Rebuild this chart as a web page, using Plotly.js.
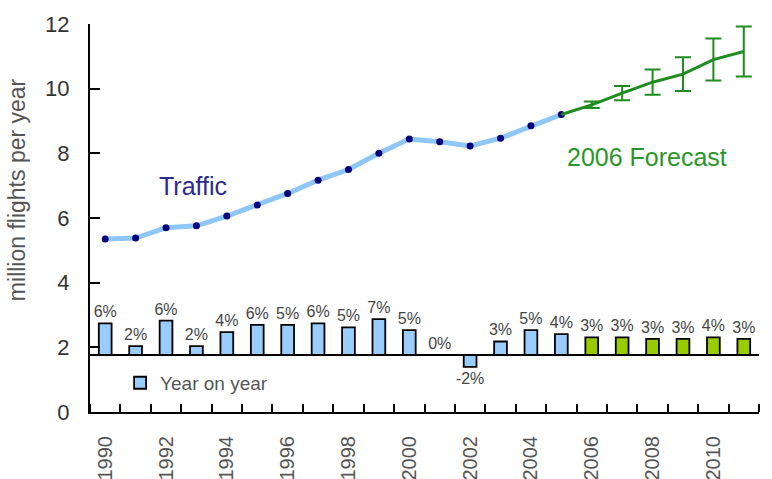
<!DOCTYPE html>
<html>
<head>
<meta charset="utf-8">
<script src="https://cdn.plot.ly/plotly-3.0.1.min.js"></script>
<style>html,body{margin:0;padding:0;background:#fff;}#chart{width:772px;height:479px;}</style>
</head>
<body>
<div id="chart"></div>
<script>
// ---- data ----
const trafficYears = [1990,1991,1992,1993,1994,1995,1996,1997,1998,1999,2000,2001,2002,2003,2004,2005];
const trafficValues = [5.35,5.38,5.7,5.76,6.06,6.4,6.76,7.17,7.5,8.0,8.44,8.36,8.23,8.47,8.85,9.2];

const forecastYears = [2005,2006,2007,2008,2009,2010,2011];
const forecastValues = [9.2,9.5,9.86,10.2,10.45,10.9,11.15];

const errorYears = [2006,2007,2008,2009,2010,2011];
const errorCentres = [9.5,9.86,10.2,10.45,10.9,11.15];
const errorHalfRange = [0.1,0.22,0.39,0.52,0.65,0.77];

const growthYears = [1990,1991,1992,1993,1994,1995,1996,1997,1998,1999,2000,2001,2002,2003,2004,2005,2006,2007,2008,2009,2010,2011];
const growthPct = [6.1,1.7,6.6,1.7,4.4,5.8,5.8,6.1,5.3,6.9,4.8,0,-2.3,2.6,4.8,4.0,3.4,3.4,3.1,3.1,3.4,3.1];
const growthLabels = ['6%','2%','6%','2%','4%','6%','5%','6%','5%','7%','5%','0%','-2%','3%','5%','4%','3%','3%','3%','3%','4%','3%'];
const growthIsForecast = [0,0,0,0,0,0,0,0,0,0,0,0,0,0,0,0,1,1,1,1,1,1];

const xTickYears = [1990,1992,1994,1996,1998,2000,2002,2004,2006,2008,2010];

// ---- chart ----
const FONT = 'Liberation Sans, Arial, sans-serif';
const barColors = growthIsForecast.map(f => f ? '#99cc00' : '#99ccff');

const traces = [
  {
    type: 'bar', x: growthYears, y: growthPct, yaxis: 'y2',
    name: 'Year on year', showlegend: true,
    width: 0.42,
    marker: {color: barColors, line: {color: '#000', width: 1.8}},
    text: growthLabels, textposition: 'outside', constraintext: 'none', cliponaxis: false,
    textfont: {family: FONT, size: 16, color: '#444'},
    hoverinfo: 'skip'
  },
  {
    type: 'scatter', mode: 'lines+markers', x: trafficYears, y: trafficValues,
    line: {color: '#8ec6f6', width: 5},
    marker: {color: '#00007a', size: 7, symbol: 'circle'},
    showlegend: false
  },
  {
    type: 'scatter', mode: 'lines', x: forecastYears, y: forecastValues,
    line: {color: '#1f8c1f', width: 3},
    showlegend: false
  },
  {
    type: 'scatter', mode: 'markers', x: errorYears, y: errorCentres,
    marker: {size: 1, color: 'rgba(0,0,0,0)'},
    error_y: {type: 'data', array: errorHalfRange, visible: true, color: '#1f8c1f', thickness: 2, width: 8},
    showlegend: false
  }
];

const layout = {
  width: 772, height: 479,
  margin: {l: 90, r: 13, t: 24, b: 67},
  paper_bgcolor: '#fff', plot_bgcolor: '#fff',
  font: {family: FONT},
  showlegend: true,
  legend: {x: 0.045, y: 0.075, xanchor: 'left', yanchor: 'middle', bgcolor: 'rgba(0,0,0,0)',
           font: {family: FONT, size: 19, color: '#555'}, itemwidth: 30},
  xaxis: {
    type: 'linear', range: [1989.5, 2011.5],
    tickvals: xTickYears, ticktext: xTickYears.map(String),
    ticks: '', tickangle: -90,
    tickfont: {family: FONT, size: 20, color: '#555'},
    ticklabelstandoff: 14,
    showline: true, linecolor: '#000', linewidth: 2,
    showgrid: false, zeroline: false,
    minor: {tick0: 1989.5, dtick: 1, ticks: 'inside', ticklen: 8, tickwidth: 2, tickcolor: '#000', showgrid: false}
  },
  yaxis: {
    range: [0, 12], dtick: 2, tick0: 0,
    ticks: 'inside', ticklen: 10, tickwidth: 2, tickcolor: '#000',
    tickfont: {family: FONT, size: 22, color: '#333'},
    ticklabelstandoff: 14,
    showline: true, linecolor: '#000', linewidth: 2,
    showgrid: false, zeroline: false
  },
  yaxis2: {
    overlaying: 'y', side: 'right',
    range: [-10.96, 63.65],
    showticklabels: false, ticks: '', showgrid: false, showline: false,
    zeroline: true, zerolinecolor: '#000', zerolinewidth: 1.5
  },
  annotations: [
    {text: 'million flights per year', textangle: -90, xref: 'paper', yref: 'paper',
     x: -0.109, y: 0.572, xanchor: 'center', yanchor: 'middle', showarrow: false,
     font: {family: FONT, size: 23, color: '#555'}},
    {text: 'Traffic', xref: 'x', yref: 'y', x: 1992.89, y: 6.99, showarrow: false,
     font: {family: FONT, size: 25, color: '#2b2b8a'}},
    {text: '2006 Forecast', xref: 'x', yref: 'y', x: 2007.82, y: 7.89, showarrow: false,
     font: {family: FONT, size: 25, color: '#2a962a'}}
  ]
};

Plotly.newPlot('chart', traces, layout, {staticPlot: true, displayModeBar: false});
</script>
</body>
</html>
